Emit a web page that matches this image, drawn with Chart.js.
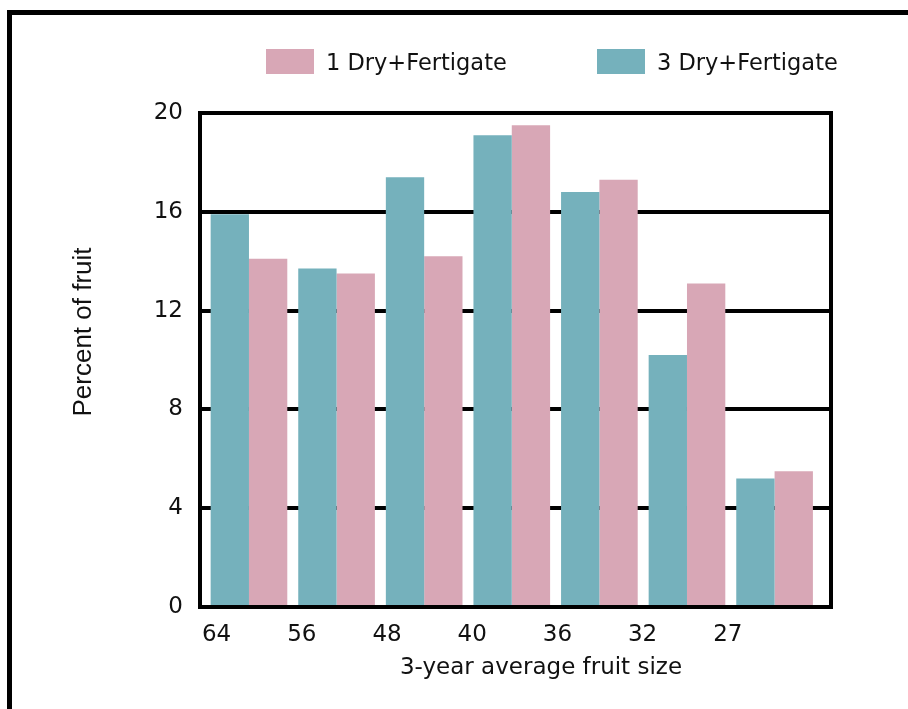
<!DOCTYPE html>
<html><head><meta charset="utf-8">
<script src="https://cdn.jsdelivr.net/npm/chart.js@4/dist/chart.umd.min.js"></script>
<style>html,body{margin:0;padding:0;background:#fff;}#wrap{width:908px;height:709px;position:relative;}canvas{display:block;}</style>
</head><body><div id="wrap"><canvas id="c" width="908" height="709"></canvas></div>
<script>
// ---- data ----
const sizeLabels = ['64', '56', '48', '40', '36', '32', '27'];
const threeDryFertigate = [15.9, 13.7, 17.4, 19.1, 16.8, 10.2, 5.2];
const oneDryFertigate = [14.1, 13.5, 14.2, 19.5, 17.3, 13.1, 5.5];
const seriesNames = ['3 Dry+Fertigate', '1 Dry+Fertigate'];
const yTickValues = [0, 4, 8, 12, 16, 20];
const xTitle = '3-year average fruit size';
const yTitle = 'Percent of fruit';

const TEAL = '#75B1BC';
const PINK = '#D8A7B6';
const TXT = '#111111';
const DJ = '"DejaVu Sans", sans-serif';

const decor = {
  id: 'decor',
  beforeDraw(chart) {
    const ctx = chart.ctx;
    ctx.save();
    ctx.fillStyle = '#fff';
    ctx.fillRect(0, 0, chart.width, chart.height);
    ctx.restore();
  },
  afterDatasetsDraw(chart) {
    const {ctx, chartArea: a} = chart;
    ctx.save();
    ctx.strokeStyle = '#000';
    ctx.lineWidth = 4;
    ctx.strokeRect(a.left, a.top, a.right - a.left, a.bottom - a.top);
    ctx.restore();
  },
  afterDraw(chart) {
    const ctx = chart.ctx;
    ctx.save();
    // outer frame
    ctx.fillStyle = '#000';
    ctx.fillRect(7, 10, chart.width - 7, 5);
    ctx.fillRect(7, 10, 5, chart.height - 10);
    // legend (order: 1 Dry first, then 3 Dry)
    const legendPos = [{ds: 1, x: 266}, {ds: 0, x: 597}];
    ctx.font = '22.5px ' + DJ;
    ctx.textBaseline = 'alphabetic';
    ctx.textAlign = 'left';
    legendPos.forEach(p => {
      const ds = chart.data.datasets[p.ds];
      ctx.fillStyle = ds.backgroundColor;
      ctx.fillRect(p.x, 49, 48, 25);
      ctx.fillStyle = TXT;
      ctx.fillText(ds.label, p.x + 60, 70);
    });
    // axis titles
    ctx.fillStyle = TXT;
    ctx.font = '23px ' + DJ;
    ctx.textAlign = 'center';
    ctx.textBaseline = 'middle';
    ctx.fillText(xTitle, 541, 668);
    ctx.translate(84, 332);
    ctx.rotate(-Math.PI / 2);
    ctx.font = '26px "Liberation Sans", Arial, sans-serif';
    ctx.fillText(yTitle, 0, 0);
    ctx.restore();
  }
};

new Chart(document.getElementById('c'), {
  type: 'bar',
  data: {
    labels: sizeLabels,
    datasets: [
      {label: seriesNames[0], data: threeDryFertigate, backgroundColor: TEAL, borderWidth: 0},
      {label: seriesNames[1], data: oneDryFertigate, backgroundColor: PINK, borderWidth: 0}
    ]
  },
  options: {
    responsive: false,
    animation: false,
    devicePixelRatio: 1,
    layout: {padding: {top: 113, right: 77, bottom: 0, left: 0}},
    datasets: {bar: {categoryPercentage: 0.875, barPercentage: 1}},
    plugins: {legend: {display: false}, tooltip: {enabled: false}, title: {display: false}},
    scales: {
      x: {
        type: 'category',
        display: false,
        offset: true,
        afterBuildTicks: s => { s._startValue = -0.559; s._valueRange = 7.203; }
      },
      x2: {
        type: 'category',
        labels: sizeLabels,
        position: 'bottom',
        offset: true,
        grid: {display: false},
        border: {display: false},
        ticks: {font: {family: DJ, size: 23}, color: TXT, padding: 6, maxRotation: 0, autoSkip: false},
        afterBuildTicks: s => { s._startValue = -0.195; s._valueRange = 7.406; },
        afterFit: s => { s.height = 102; }
      },
      y: {
        min: 0,
        max: 20,
        afterBuildTicks: s => { s.ticks = yTickValues.map(v => ({value: v})); },
        grid: {color: '#000', lineWidth: 4, drawTicks: false},
        border: {display: false},
        ticks: {font: {family: DJ, size: 23}, color: TXT, padding: 17},
        afterFit: s => { s.width = 200; }
      }
    }
  },
  plugins: [decor]
});
</script>
</body></html>
